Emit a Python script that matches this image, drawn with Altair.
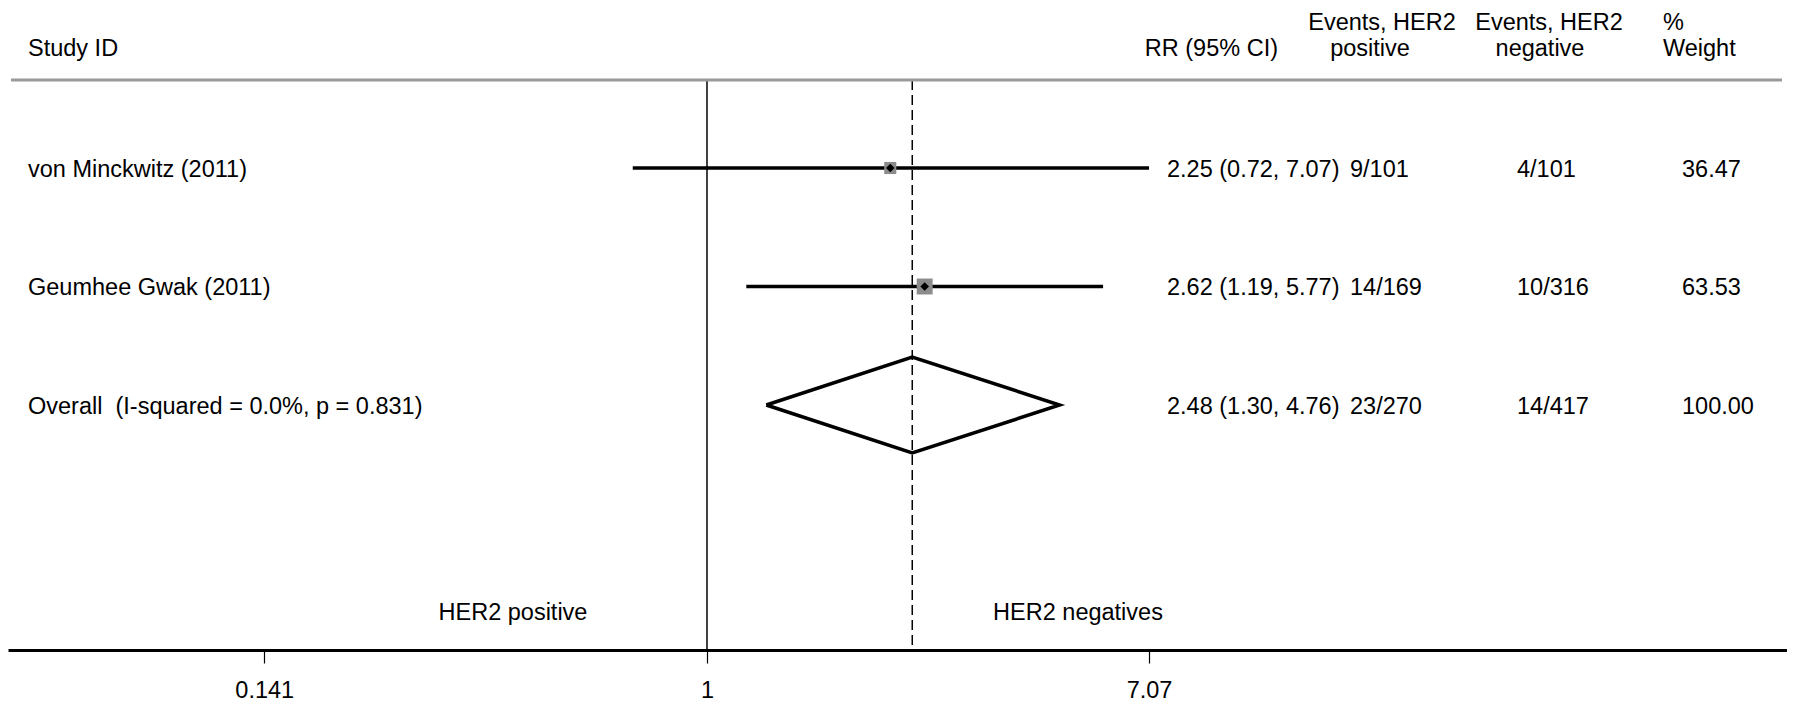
import altair as alt
import pandas as pd

# ---------------- data ----------------
studies = ["von Minckwitz (2011)", "Geumhee Gwak (2011)"]
rr = [2.25, 2.62]
ci_low = [0.72, 1.19]
ci_high = [7.07, 5.77]
events_pos = ["9/101", "14/169"]
events_neg = ["4/101", "10/316"]
weights = [36.47, 63.53]

overall_label = "Overall \u00a0(I-squared = 0.0%, p = 0.831)"
overall_rr = 2.48
overall_low = 1.30
overall_high = 4.76
overall_events_pos = "23/270"
overall_events_neg = "14/417"
overall_weight = 100.00

tick_values = [0.141, 1, 7.07]
header_study = "Study ID"
header_rr = "RR (95% CI)"
header_pos = ["Events, HER2", "positive"]
header_neg = ["Events, HER2", "negative"]
header_weight = ["%", "Weight"]
side_labels = ["HER2 positive", "HER2 negatives"]

# ---------------- tables ----------------
rows = pd.DataFrame({
    "row": [1, 2, 3],
    "label": studies + [overall_label],
    "rr_text": [f"{a:.2f} ({b:.2f}, {c:.2f})" for a, b, c in
                zip(rr + [overall_rr], ci_low + [overall_low], ci_high + [overall_high])],
    "ev_pos": events_pos + [overall_events_pos],
    "ev_neg": events_neg + [overall_events_neg],
    "w_text": [f"{w:.2f}" for w in weights + [overall_weight]],
})
studies_df = pd.DataFrame({
    "row": [1, 2],
    "rr": rr,
    "lo": ci_low,
    "hi": ci_high,
    "weight": weights,
})
HALF = 0.405  # diamond half-height in row units
diamond = pd.DataFrame({
    "x": [overall_low, overall_rr, overall_high, overall_rr, overall_low],
    "row": [3, 3 - HALF, 3, 3 + HALF, 3],
    "i": [0, 1, 2, 3, 4],
})

FONT = "Liberation Sans"
FS = 23.5
W, H = 1779, 642

xscale = alt.Scale(type="log", domain=[0.045371, 118.96], nice=False)
xaxis = alt.Axis(values=tick_values, format=".3~g", title=None, grid=False,
                 domainColor="black", domainWidth=3, tickColor="black", tickWidth=1.2,
                 tickSize=13, labelFont=FONT, labelFontSize=FS, labelColor="black",
                 labelPadding=15, labelFlush=False)
yscale = alt.Scale(domain=[-0.3502, 5.0675], reverse=True, nice=False, zero=False)
yenc = alt.Y("row:Q", scale=yscale, axis=None)


def X(field):
    return alt.X(field, scale=xscale, axis=xaxis)


def txt(text, x, y, align="left"):
    return alt.Chart(pd.DataFrame({"t": [text]})).mark_text(
        align=align, baseline="middle", font=FONT, fontSize=FS, color="black"
    ).encode(x=alt.value(x), y=alt.value(y), text="t:N")


null_line = alt.Chart(pd.DataFrame({"v": [1]})).mark_rule(color="black", strokeWidth=1.5).encode(
    x=X("v:Q"), y=alt.value(72), y2=alt.value(H))
overall_line = alt.Chart(pd.DataFrame({"v": [overall_rr]})).mark_rule(
    color="black", strokeWidth=1.5, strokeDash=[10, 5]).encode(
    x=X("v:Q"), y=alt.value(72), y2=alt.value(H))

ci = alt.Chart(studies_df).mark_rule(color="black", strokeWidth=3.5).encode(
    x=X("lo:Q"), x2="hi:Q", y=yenc)
squares = alt.Chart(studies_df).mark_square(color="#8c8c8c", opacity=1).encode(
    x=X("rr:Q"), y=yenc,
    size=alt.Size("weight:Q", scale=alt.Scale(domain=[0, 100], range=[0, 400]), legend=None))
dots = alt.Chart(studies_df).mark_point(shape="diamond", filled=True, color="black",
                                        size=75, opacity=1).encode(x=X("rr:Q"), y=yenc)
dia = alt.Chart(diamond).mark_line(color="black", strokeWidth=3.5, strokeJoin="miter").encode(
    x=X("x:Q"), y=yenc, order="i:Q")

header_rule = alt.Chart(pd.DataFrame({"a": [0]})).mark_rule(color="#9a9a9a", strokeWidth=3).encode(
    x=alt.value(3), x2=alt.value(1774), y=alt.value(72))


def col(field, x, align="left"):
    return alt.Chart(rows).mark_text(align=align, baseline="middle", font=FONT, fontSize=FS,
                                     color="black", dy=2).encode(
        x=alt.value(x), y=yenc, text=f"{field}:N")


layers = [
    null_line, overall_line, ci, squares, dots, dia, header_rule,
    col("label", 20), col("rr_text", 1159), col("ev_pos", 1342), col("ev_neg", 1509),
    col("w_text", 1674),
    txt(header_study, 20, 41),
    txt(header_rr, 1270, 41, "right"),
    txt(header_pos[0], 1374, 15, "center"), txt(header_pos[1], 1362, 41, "center"),
    txt(header_neg[0], 1541, 15, "center"), txt(header_neg[1], 1532, 41, "center"),
    txt(header_weight[0], 1655, 15), txt(header_weight[1], 1655, 41),
    txt(side_labels[0], 505, 605, "center"), txt(side_labels[1], 1070, 605, "center"),
]

chart = alt.layer(*layers).properties(
    width=W, height=H,
    background="white",
    autosize=alt.AutoSizeParams(type="none"),
    padding={"left": 0, "top": 0, "right": 0, "bottom": 52},
).configure_view(strokeWidth=0, stroke="transparent")

chart.save("out.html", embed_options={"renderer": "svg", "actions": False})
